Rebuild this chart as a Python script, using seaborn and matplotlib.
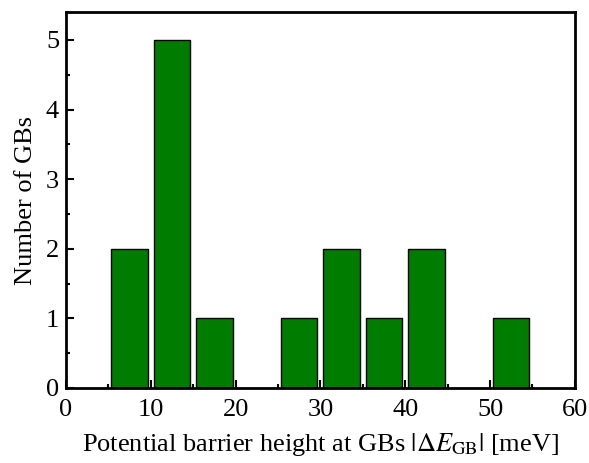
import matplotlib
matplotlib.use("Agg")
import matplotlib.pyplot as plt
import seaborn as sns
import numpy as np
import pandas as pd
from matplotlib.ticker import MultipleLocator

bin_centers = [7.5, 12.5, 17.5, 22.5, 27.5, 32.5, 37.5, 42.5, 47.5, 52.5]
counts = [2, 5, 1, 0, 1, 2, 1, 2, 0, 1]
bin_edges = [5, 10, 15, 20, 25, 30, 35, 40, 45, 50, 55]
x_ticks = [0, 10, 20, 30, 40, 50, 60]
y_ticks = [0, 1, 2, 3, 4, 5]

sns.set_theme(style="ticks")
plt.rcParams['font.family'] = ['Liberation Serif', 'DejaVu Serif']
plt.rcParams['mathtext.fontset'] = 'stix'
plt.rcParams['text.color'] = 'black'
plt.rcParams['axes.labelcolor'] = 'black'
plt.rcParams['xtick.color'] = 'black'
plt.rcParams['ytick.color'] = 'black'

df = pd.DataFrame({"energy": bin_centers, "count": counts})

fig = plt.figure(figsize=(5.89, 4.63), dpi=100)
ax = fig.add_axes([0.112, 0.162, 0.864, 0.812])
sns.histplot(data=df, x="energy", weights="count", bins=bin_edges, shrink=0.86,
             color="#007d00", alpha=1, edgecolor="black", linewidth=1.0, ax=ax)

ax.set_xlim(0, 60)
ax.set_ylim(0, 5.4)
ax.set_xticks(x_ticks)
ax.set_yticks(y_ticks)
ax.xaxis.set_minor_locator(MultipleLocator(5))
ax.yaxis.set_minor_locator(MultipleLocator(0.5))
ax.tick_params(which='major', direction='in', length=6, width=1.5, labelsize=19, pad=5,
               colors='black')
ax.tick_params(axis='x', which='major', pad=8)
ax.tick_params(which='minor', direction='in', length=3, width=1.5)
for s in ax.spines.values():
    s.set_linewidth(2)
    s.set_color('black')
ax.set_xlabel(r'Potential barrier height at GBs $|\Delta E_{\rm GB}|$ [meV]', fontsize=19, labelpad=7)
ax.set_ylabel('Number of GBs', fontsize=19, labelpad=6)

fig.savefig("out.png", dpi=100)
